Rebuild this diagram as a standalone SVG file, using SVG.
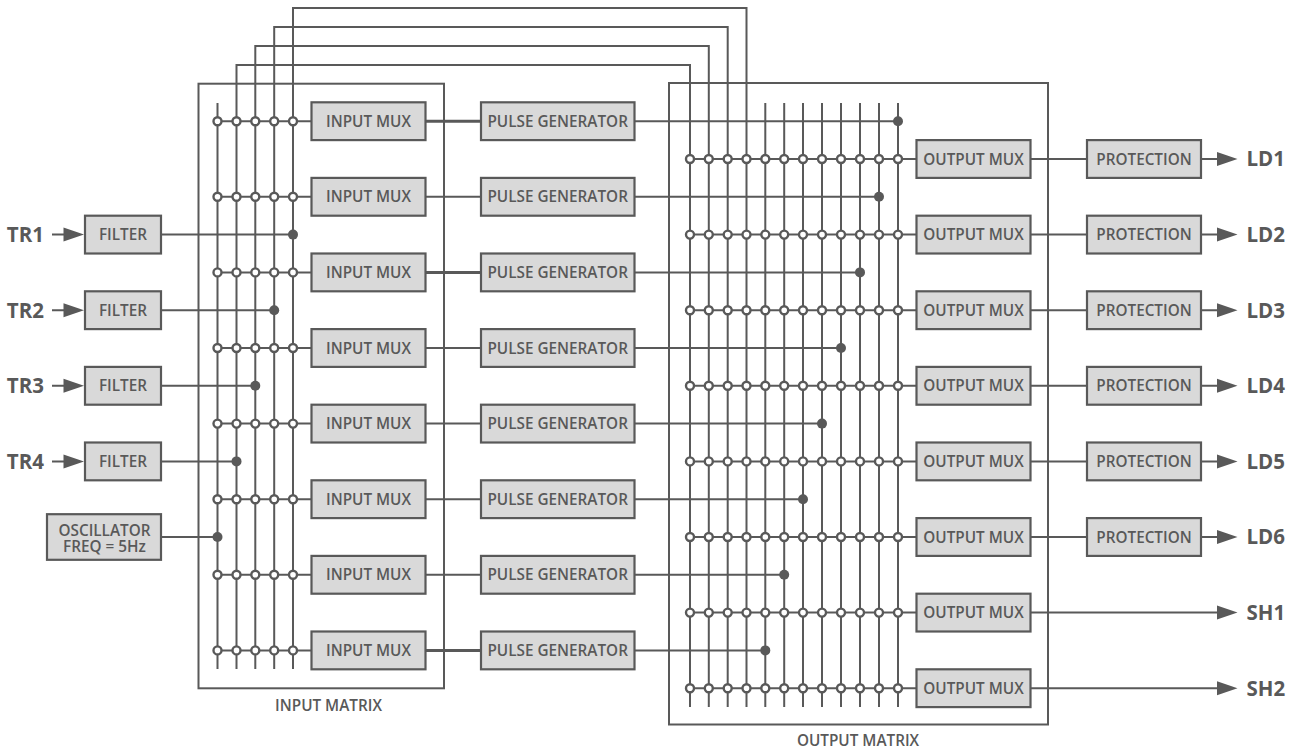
<svg xmlns="http://www.w3.org/2000/svg" width="1295" height="751" viewBox="0 0 1295 751">
<style>
text{font-family:"Open Sans","Noto Sans","Liberation Sans",sans-serif;font-weight:600;fill:#595959;text-anchor:middle;font-size:15.3px}
.b{fill:#d9d9d9;stroke:#595959;stroke-width:2.2}
.f{fill:none;stroke:#595959;stroke-width:2}
.l{fill:none;stroke:#595959;stroke-width:2}
.k{fill:none;stroke:#595959;stroke-width:3}
.o{fill:#fff;stroke:#595959;stroke-width:2.4}
.d{fill:#595959}
.p{font-size:20.5px;font-weight:700;text-anchor:start}
.e{font-size:20.5px;font-weight:700;text-anchor:end}
</style>
<defs>
<circle id="o" r="4" class="o"/>
<circle id="d" r="5" class="d"/>
<path id="a" d="M-20.5-7L0 0L-20.5 7Z" class="d"/>
</defs>
<g id="input-matrix"><rect class="f" x="198.5" y="83.7" width="245.5" height="604.6"/><text x="328.5" y="710.8">INPUT MATRIX</text></g>
<g id="output-matrix"><rect class="f" x="669" y="83" width="379" height="641.5"/><text x="858" y="745.5">OUTPUT MATRIX</text></g>
<g id="connectors">
<path class="l" d="M217.5 103V669M236.5 669V65H690V707M255.3 669V46H708.8V707M274.2 669V27H727.7V707M293 669V8H746.5V707"/>
<path class="l" d="M765.3 103V707M784.2 103V707M803 103V707M822 103V707M841 103V707M860 103V707M879 103V707M898 103V707"/>
<path class="l" d="M217.5 121.2H311.5M217.5 196.8H311.5M217.5 272.4H311.5M217.5 348H311.5M217.5 423.6H311.5M217.5 499.2H311.5M217.5 574.8H311.5M217.5 650.4H311.5"/>
<path class="k" d="M425.5 121.2H481M425.5 272.4H481M425.5 650.4H481"/>
<path class="l" d="M425.5 196.8H481M425.5 348H481M425.5 423.6H481M425.5 499.2H481M425.5 574.8H481"/>
<path class="l" d="M634.5 121.2H898M634.5 196.8H879M634.5 272.4H860M634.5 348H841M634.5 423.6H822M634.5 499.2H803M634.5 574.8H784.2M634.5 650.4H765.3"/>
<path class="l" d="M690 159H916M690 234.6H916M690 310.2H916M690 385.8H916M690 461.4H916M690 537H916M690 612.6H916M690 688.2H916"/>
<path class="l" d="M1031 159H1087M1031 234.6H1087M1031 310.2H1087M1031 385.8H1087M1031 461.4H1087M1031 537H1087M1031 612.6H1220M1031 688.2H1220"/>
<path class="l" d="M1201 159H1220M1201 234.6H1220M1201 310.2H1220M1201 385.8H1220M1201 461.4H1220M1201 537H1220"/>
<path class="l" d="M52 234.6H68M52 310.2H68M52 385.8H68M52 461.4H68"/>
<path class="l" d="M161 234.6H293M161 310.2H274.2M161 385.8H255.3M161 461.4H236.5M161 537H217.5"/>
<use href="#d" x="293" y="234.6"/><use href="#d" x="274.2" y="310.2"/><use href="#d" x="255.3" y="385.8"/><use href="#d" x="236.5" y="461.4"/><use href="#d" x="217.5" y="537"/>
<use href="#d" x="898" y="121.2"/><use href="#d" x="879" y="196.8"/><use href="#d" x="860" y="272.4"/><use href="#d" x="841" y="348"/><use href="#d" x="822" y="423.6"/><use href="#d" x="803" y="499.2"/><use href="#d" x="784.2" y="574.8"/><use href="#d" x="765.3" y="650.4"/>
<use href="#a" x="84" y="234.6"/><use href="#a" x="84" y="310.2"/><use href="#a" x="84" y="385.8"/><use href="#a" x="84" y="461.4"/>
<use href="#a" x="1237.5" y="159"/><use href="#a" x="1237.5" y="234.6"/><use href="#a" x="1237.5" y="310.2"/><use href="#a" x="1237.5" y="385.8"/><use href="#a" x="1237.5" y="461.4"/><use href="#a" x="1237.5" y="537"/><use href="#a" x="1237.5" y="612.6"/><use href="#a" x="1237.5" y="688.2"/>
<g id="input-junctions">
<use href="#o" x="217.5" y="121.2"/><use href="#o" x="236.5" y="121.2"/><use href="#o" x="255.3" y="121.2"/><use href="#o" x="274.2" y="121.2"/><use href="#o" x="293" y="121.2"/>
<use href="#o" x="217.5" y="196.8"/><use href="#o" x="236.5" y="196.8"/><use href="#o" x="255.3" y="196.8"/><use href="#o" x="274.2" y="196.8"/><use href="#o" x="293" y="196.8"/>
<use href="#o" x="217.5" y="272.4"/><use href="#o" x="236.5" y="272.4"/><use href="#o" x="255.3" y="272.4"/><use href="#o" x="274.2" y="272.4"/><use href="#o" x="293" y="272.4"/>
<use href="#o" x="217.5" y="348"/><use href="#o" x="236.5" y="348"/><use href="#o" x="255.3" y="348"/><use href="#o" x="274.2" y="348"/><use href="#o" x="293" y="348"/>
<use href="#o" x="217.5" y="423.6"/><use href="#o" x="236.5" y="423.6"/><use href="#o" x="255.3" y="423.6"/><use href="#o" x="274.2" y="423.6"/><use href="#o" x="293" y="423.6"/>
<use href="#o" x="217.5" y="499.2"/><use href="#o" x="236.5" y="499.2"/><use href="#o" x="255.3" y="499.2"/><use href="#o" x="274.2" y="499.2"/><use href="#o" x="293" y="499.2"/>
<use href="#o" x="217.5" y="574.8"/><use href="#o" x="236.5" y="574.8"/><use href="#o" x="255.3" y="574.8"/><use href="#o" x="274.2" y="574.8"/><use href="#o" x="293" y="574.8"/>
<use href="#o" x="217.5" y="650.4"/><use href="#o" x="236.5" y="650.4"/><use href="#o" x="255.3" y="650.4"/><use href="#o" x="274.2" y="650.4"/><use href="#o" x="293" y="650.4"/>
</g>
<g id="output-junctions">
<use href="#o" x="690" y="159"/><use href="#o" x="708.8" y="159"/><use href="#o" x="727.7" y="159"/><use href="#o" x="746.5" y="159"/><use href="#o" x="765.3" y="159"/><use href="#o" x="784.2" y="159"/><use href="#o" x="803" y="159"/><use href="#o" x="822" y="159"/><use href="#o" x="841" y="159"/><use href="#o" x="860" y="159"/><use href="#o" x="879" y="159"/><use href="#o" x="898" y="159"/>
<use href="#o" x="690" y="234.6"/><use href="#o" x="708.8" y="234.6"/><use href="#o" x="727.7" y="234.6"/><use href="#o" x="746.5" y="234.6"/><use href="#o" x="765.3" y="234.6"/><use href="#o" x="784.2" y="234.6"/><use href="#o" x="803" y="234.6"/><use href="#o" x="822" y="234.6"/><use href="#o" x="841" y="234.6"/><use href="#o" x="860" y="234.6"/><use href="#o" x="879" y="234.6"/><use href="#o" x="898" y="234.6"/>
<use href="#o" x="690" y="310.2"/><use href="#o" x="708.8" y="310.2"/><use href="#o" x="727.7" y="310.2"/><use href="#o" x="746.5" y="310.2"/><use href="#o" x="765.3" y="310.2"/><use href="#o" x="784.2" y="310.2"/><use href="#o" x="803" y="310.2"/><use href="#o" x="822" y="310.2"/><use href="#o" x="841" y="310.2"/><use href="#o" x="860" y="310.2"/><use href="#o" x="879" y="310.2"/><use href="#o" x="898" y="310.2"/>
<use href="#o" x="690" y="385.8"/><use href="#o" x="708.8" y="385.8"/><use href="#o" x="727.7" y="385.8"/><use href="#o" x="746.5" y="385.8"/><use href="#o" x="765.3" y="385.8"/><use href="#o" x="784.2" y="385.8"/><use href="#o" x="803" y="385.8"/><use href="#o" x="822" y="385.8"/><use href="#o" x="841" y="385.8"/><use href="#o" x="860" y="385.8"/><use href="#o" x="879" y="385.8"/><use href="#o" x="898" y="385.8"/>
<use href="#o" x="690" y="461.4"/><use href="#o" x="708.8" y="461.4"/><use href="#o" x="727.7" y="461.4"/><use href="#o" x="746.5" y="461.4"/><use href="#o" x="765.3" y="461.4"/><use href="#o" x="784.2" y="461.4"/><use href="#o" x="803" y="461.4"/><use href="#o" x="822" y="461.4"/><use href="#o" x="841" y="461.4"/><use href="#o" x="860" y="461.4"/><use href="#o" x="879" y="461.4"/><use href="#o" x="898" y="461.4"/>
<use href="#o" x="690" y="537"/><use href="#o" x="708.8" y="537"/><use href="#o" x="727.7" y="537"/><use href="#o" x="746.5" y="537"/><use href="#o" x="765.3" y="537"/><use href="#o" x="784.2" y="537"/><use href="#o" x="803" y="537"/><use href="#o" x="822" y="537"/><use href="#o" x="841" y="537"/><use href="#o" x="860" y="537"/><use href="#o" x="879" y="537"/><use href="#o" x="898" y="537"/>
<use href="#o" x="690" y="612.6"/><use href="#o" x="708.8" y="612.6"/><use href="#o" x="727.7" y="612.6"/><use href="#o" x="746.5" y="612.6"/><use href="#o" x="765.3" y="612.6"/><use href="#o" x="784.2" y="612.6"/><use href="#o" x="803" y="612.6"/><use href="#o" x="822" y="612.6"/><use href="#o" x="841" y="612.6"/><use href="#o" x="860" y="612.6"/><use href="#o" x="879" y="612.6"/><use href="#o" x="898" y="612.6"/>
<use href="#o" x="690" y="688.2"/><use href="#o" x="708.8" y="688.2"/><use href="#o" x="727.7" y="688.2"/><use href="#o" x="746.5" y="688.2"/><use href="#o" x="765.3" y="688.2"/><use href="#o" x="784.2" y="688.2"/><use href="#o" x="803" y="688.2"/><use href="#o" x="822" y="688.2"/><use href="#o" x="841" y="688.2"/><use href="#o" x="860" y="688.2"/><use href="#o" x="879" y="688.2"/><use href="#o" x="898" y="688.2"/>
</g>
</g>
<g id="filter1"><rect class="b" x="85" y="215.7" width="76" height="37.8"/><text x="123" y="240.1">FILTER</text></g>
<g id="filter2"><rect class="b" x="85" y="291.3" width="76" height="37.8"/><text x="123" y="315.7">FILTER</text></g>
<g id="filter3"><rect class="b" x="85" y="366.9" width="76" height="37.8"/><text x="123" y="391.3">FILTER</text></g>
<g id="filter4"><rect class="b" x="85" y="442.5" width="76" height="37.8"/><text x="123" y="466.9">FILTER</text></g>
<g id="oscillator"><rect class="b" x="47" y="514.2" width="114" height="45.6"/><text x="104.5" y="536.2">OSCILLATOR</text><text x="104.5" y="552.2">FREQ = 5Hz</text></g>
<g id="im1"><rect class="b" x="311.5" y="102.3" width="114" height="37.8"/><text x="368.5" y="126.7">INPUT MUX</text></g>
<g id="im2"><rect class="b" x="311.5" y="177.9" width="114" height="37.8"/><text x="368.5" y="202.3">INPUT MUX</text></g>
<g id="im3"><rect class="b" x="311.5" y="253.5" width="114" height="37.8"/><text x="368.5" y="277.9">INPUT MUX</text></g>
<g id="im4"><rect class="b" x="311.5" y="329.1" width="114" height="37.8"/><text x="368.5" y="353.5">INPUT MUX</text></g>
<g id="im5"><rect class="b" x="311.5" y="404.7" width="114" height="37.8"/><text x="368.5" y="429.1">INPUT MUX</text></g>
<g id="im6"><rect class="b" x="311.5" y="480.3" width="114" height="37.8"/><text x="368.5" y="504.7">INPUT MUX</text></g>
<g id="im7"><rect class="b" x="311.5" y="555.9" width="114" height="37.8"/><text x="368.5" y="580.3">INPUT MUX</text></g>
<g id="im8"><rect class="b" x="311.5" y="631.5" width="114" height="37.8"/><text x="368.5" y="655.9">INPUT MUX</text></g>
<g id="pg1"><rect class="b" x="481" y="102.3" width="153.5" height="37.8"/><text x="557.7" y="126.7">PULSE GENERATOR</text></g>
<g id="pg2"><rect class="b" x="481" y="177.9" width="153.5" height="37.8"/><text x="557.7" y="202.3">PULSE GENERATOR</text></g>
<g id="pg3"><rect class="b" x="481" y="253.5" width="153.5" height="37.8"/><text x="557.7" y="277.9">PULSE GENERATOR</text></g>
<g id="pg4"><rect class="b" x="481" y="329.1" width="153.5" height="37.8"/><text x="557.7" y="353.5">PULSE GENERATOR</text></g>
<g id="pg5"><rect class="b" x="481" y="404.7" width="153.5" height="37.8"/><text x="557.7" y="429.1">PULSE GENERATOR</text></g>
<g id="pg6"><rect class="b" x="481" y="480.3" width="153.5" height="37.8"/><text x="557.7" y="504.7">PULSE GENERATOR</text></g>
<g id="pg7"><rect class="b" x="481" y="555.9" width="153.5" height="37.8"/><text x="557.7" y="580.3">PULSE GENERATOR</text></g>
<g id="pg8"><rect class="b" x="481" y="631.5" width="153.5" height="37.8"/><text x="557.7" y="655.9">PULSE GENERATOR</text></g>
<g id="om1"><rect class="b" x="916.5" y="140.1" width="114" height="37.8"/><text x="973.5" y="164.5">OUTPUT MUX</text></g>
<g id="om2"><rect class="b" x="916.5" y="215.7" width="114" height="37.8"/><text x="973.5" y="240.1">OUTPUT MUX</text></g>
<g id="om3"><rect class="b" x="916.5" y="291.3" width="114" height="37.8"/><text x="973.5" y="315.7">OUTPUT MUX</text></g>
<g id="om4"><rect class="b" x="916.5" y="366.9" width="114" height="37.8"/><text x="973.5" y="391.3">OUTPUT MUX</text></g>
<g id="om5"><rect class="b" x="916.5" y="442.5" width="114" height="37.8"/><text x="973.5" y="466.9">OUTPUT MUX</text></g>
<g id="om6"><rect class="b" x="916.5" y="518.1" width="114" height="37.8"/><text x="973.5" y="542.5">OUTPUT MUX</text></g>
<g id="om7"><rect class="b" x="916.5" y="593.7" width="114" height="37.8"/><text x="973.5" y="618.1">OUTPUT MUX</text></g>
<g id="om8"><rect class="b" x="916.5" y="669.3" width="114" height="37.8"/><text x="973.5" y="693.7">OUTPUT MUX</text></g>
<g id="prot1"><rect class="b" x="1087" y="140.1" width="114" height="37.8"/><text x="1144" y="164.5">PROTECTION</text></g>
<g id="prot2"><rect class="b" x="1087" y="215.7" width="114" height="37.8"/><text x="1144" y="240.1">PROTECTION</text></g>
<g id="prot3"><rect class="b" x="1087" y="291.3" width="114" height="37.8"/><text x="1144" y="315.7">PROTECTION</text></g>
<g id="prot4"><rect class="b" x="1087" y="366.9" width="114" height="37.8"/><text x="1144" y="391.3">PROTECTION</text></g>
<g id="prot5"><rect class="b" x="1087" y="442.5" width="114" height="37.8"/><text x="1144" y="466.9">PROTECTION</text></g>
<g id="prot6"><rect class="b" x="1087" y="518.1" width="114" height="37.8"/><text x="1144" y="542.5">PROTECTION</text></g>
<g id="labels">
<text class="e" x="44" y="241.9">TR1</text><text class="e" x="44" y="317.5">TR2</text><text class="e" x="44" y="393.1">TR3</text><text class="e" x="44" y="468.7">TR4</text>
<text class="p" x="1246.5" y="166.3">LD1</text><text class="p" x="1246.5" y="241.9">LD2</text><text class="p" x="1246.5" y="317.5">LD3</text><text class="p" x="1246.5" y="393.1">LD4</text><text class="p" x="1246.5" y="468.7">LD5</text><text class="p" x="1246.5" y="544.3">LD6</text><text class="p" x="1246.5" y="619.9">SH1</text><text class="p" x="1246.5" y="695.5">SH2</text>
</g>
</svg>
